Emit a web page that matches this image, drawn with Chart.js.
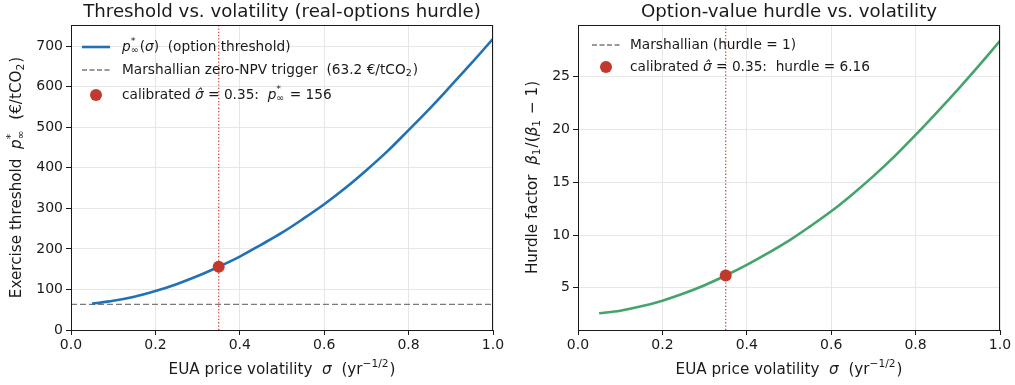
<!DOCTYPE html>
<html>
<head>
<meta charset="utf-8">
<script src="https://cdn.jsdelivr.net/npm/chart.js@4.4.1/dist/chart.umd.min.js"></script>
<style>
  html, body { margin: 0; padding: 0; background: #fff; }
  #wrap { position: relative; width: 1015px; height: 385px; }
  canvas { position: absolute; top: 0; }
</style>
</head>
<body>
<div id="wrap">
  <canvas id="left-chart" width="507" height="385" style="left:0"></canvas>
  <canvas id="right-chart" width="508" height="385" style="left:507px"></canvas>
</div>
<script>
// ---- data ----
const sigma = [0.05, 0.10, 0.15, 0.20, 0.25, 0.30, 0.35, 0.40, 0.45, 0.50,
               0.55, 0.60, 0.65, 0.70, 0.75, 0.80, 0.85, 0.90, 0.95, 1.00];
const pStar = [65, 72, 82, 96, 113, 133, 156, 181, 210, 240,
               274, 310, 350, 394, 441, 493, 546, 602, 659, 718];
const hurdle = [2.58, 2.83, 3.24, 3.78, 4.45, 5.24, 6.16, 7.17, 8.28, 9.47,
                10.82, 12.25, 13.85, 15.58, 17.45, 19.48, 21.60, 23.78, 26.05, 28.40];

const marshallianTrigger = 63.2;
const marshallianHurdle = 1;
const sigmaHat = 0.35;
const pStarHat = 156;
const hurdleHat = 6.16;

const xTicks = [0, 0.2, 0.4, 0.6, 0.8, 1.0];
const leftYTicks = [0, 100, 200, 300, 400, 500, 600, 700];
const rightYTicks = [5, 10, 15, 20, 25];
const leftYRange = [0, 752];
const rightYRange = [1, 29.9];

// ---- styling ----
const FONT = '"DejaVu Sans", "Liberation Sans", sans-serif';
const INK = '#1a1a1a';
const BLUE = '#2171b5';
const GREEN = '#45a36c';
const RED = '#c0392b';
const VLINE_RED = '#d9453a';
const GRAY = '#7a7a7a';

// ============================================
// rich text (italics, sub/superscripts)
// ============================================

function segFont(size, italic) {
  return (italic ? 'italic ' : '') + size + 'px ' + FONT;
}

function layoutRich(ctx, segs, size) {
  let w = 0;
  segs.forEach(s => {
    if (s.sup !== undefined || s.sub !== undefined) {
      ctx.font = segFont(size * 0.7, false);
      const w1 = s.sup ? ctx.measureText(s.sup).width : 0;
      const w2 = s.sub ? ctx.measureText(s.sub).width : 0;
      s._w = Math.max(w1, w2) + 1;
    } else {
      ctx.font = segFont(size, s.i);
      s._w = ctx.measureText(s.t).width;
    }
    w += s._w;
  });
  return w;
}

function drawRich(ctx, segs, x, y, size, align, color) {
  const w = layoutRich(ctx, segs, size);
  let cx = align === 'center' ? x - w / 2 : x;
  ctx.textBaseline = 'middle';
  ctx.textAlign = 'left';
  ctx.fillStyle = color || INK;
  segs.forEach(s => {
    if (s.sup !== undefined || s.sub !== undefined) {
      ctx.font = segFont(size * 0.7, false);
      if (s.sup) ctx.fillText(s.sup, cx, y - size * 0.4);
      if (s.sub) ctx.fillText(s.sub, cx, y + size * 0.28);
    } else {
      ctx.font = segFont(size, s.i);
      ctx.fillText(s.t, cx, y);
    }
    cx += s._w;
  });
  return w;
}

const T = (t, i) => ({ t: t, i: !!i });

const xLabel = [T('EUA price volatility  '), T('σ', true), T('  (yr'), { sup: '−1/2' }, T(')')];

// ============================================
// decorations plugin: title, labels, frame, legend
// ============================================

function makeDeco(cfg) {
  return {
    id: 'deco',
    afterDatasetsDraw(chart) {
      const ctx = chart.ctx;
      const a = chart.chartArea;
      ctx.save();

      // frame (all four spines)
      ctx.strokeStyle = INK;
      ctx.lineWidth = 1;
      ctx.strokeRect(a.left + 0.5, a.top + 0.5, a.right - a.left - 1, a.bottom - a.top);

      // title
      ctx.font = segFont(18.2, false);
      ctx.fillStyle = INK;
      ctx.textAlign = 'center';
      ctx.textBaseline = 'middle';
      ctx.fillText(cfg.title, (a.left + a.right) / 2, 12);

      // axis labels
      drawRich(ctx, xLabel, (a.left + a.right) / 2, 370, 15.2, 'center');
      ctx.save();
      ctx.translate(cfg.yLabelX, (a.top + a.bottom) / 2);
      ctx.rotate(-Math.PI / 2);
      drawRich(ctx, cfg.yLabel, 0, 0, 15.2, 'center');
      ctx.restore();

      // legend (no frame, as in the reference)
      const lg = cfg.legend;
      const fs = 13.7;
      lg.items.forEach((it, k) => {
        const y = lg.rows[k];
        if (it.kind === 'line' || it.kind === 'dash') {
          ctx.strokeStyle = it.color;
          ctx.lineWidth = it.width;
          ctx.setLineDash(it.kind === 'dash' ? [5, 2.5] : []);
          ctx.beginPath();
          ctx.moveTo(lg.handleX0, y);
          ctx.lineTo(lg.handleX1, y);
          ctx.stroke();
          ctx.setLineDash([]);
        } else {
          ctx.fillStyle = it.color;
          ctx.beginPath();
          ctx.arc((lg.handleX0 + lg.handleX1) / 2, y, 6, 0, Math.PI * 2);
          ctx.fill();
        }
        drawRich(ctx, it.text, lg.textX, y, fs, 'left');
      });

      ctx.restore();
    }
  };
}

// ============================================
// chart builder
// ============================================

function xy(xs, ys) {
  return xs.map((x, i) => ({ x: x, y: ys[i] }));
}

function buildChart(id, opts) {
  const tickFont = { family: FONT, size: 14 };
  return new Chart(document.getElementById(id), {
    type: 'scatter',
    data: {
      datasets: [
        {
          label: 'calibrated',
          data: [{ x: sigmaHat, y: opts.hatValue }],
          pointRadius: 6,
          pointBackgroundColor: RED,
          pointBorderColor: RED,
          pointBorderWidth: 0,
          showLine: false
        },
        {
          label: 'curve',
          data: xy(sigma, opts.values),
          showLine: true,
          borderColor: opts.color,
          borderWidth: 2.6,
          pointRadius: 0,
          tension: 0.35,
          fill: false
        },
        {
          label: 'marshallian',
          data: [{ x: 0, y: opts.marshallian }, { x: 1, y: opts.marshallian }],
          showLine: true,
          borderColor: GRAY,
          borderWidth: 1.3,
          borderDash: [6, 3],
          pointRadius: 0,
          clip: { left: 0, top: 0, right: 0, bottom: -2 }
        },
        {
          label: 'sigma-hat',
          data: [{ x: sigmaHat, y: opts.yRange[0] }, { x: sigmaHat, y: opts.yRange[1] }],
          showLine: true,
          borderColor: VLINE_RED,
          borderWidth: 1.3,
          borderDash: [1.3, 2],
          pointRadius: 0
        }
      ]
    },
    options: {
      responsive: false,
      animation: false,
      devicePixelRatio: 1,
      layout: { padding: { left: 0, right: opts.padRight, top: 25, bottom: 0 } },
      plugins: {
        legend: { display: false },
        tooltip: { enabled: false },
        title: { display: false }
      },
      scales: {
        x: {
          type: 'linear',
          min: 0,
          max: 1,
          afterBuildTicks: s => { s.ticks = xTicks.map(v => ({ value: v })); },
          afterFit: s => { s.height = 55; },
          ticks: {
            color: INK,
            font: tickFont,
            padding: 2,
            maxRotation: 0,
            callback: v => v.toFixed(1)
          },
          grid: { color: '#e4e4e4', lineWidth: 0.9, tickColor: INK, tickLength: 5, tickWidth: 1 },
          border: { display: true, color: INK, width: 1 }
        },
        y: {
          type: 'linear',
          min: opts.yRange[0],
          max: opts.yRange[1],
          afterBuildTicks: s => { s.ticks = opts.yTicks.map(v => ({ value: v })); },
          afterFit: s => { s.width = 71; },
          ticks: {
            color: INK,
            font: tickFont,
            padding: 3
          },
          grid: { color: '#e4e4e4', lineWidth: 0.9, tickColor: INK, tickLength: 5, tickWidth: 1 },
          border: { display: true, color: INK, width: 1 }
        }
      }
    },
    plugins: [makeDeco(opts.deco)]
  });
}

const pStarSegs = [T('p', true), { sup: '*', sub: '∞' }];

buildChart('left-chart', {
  values: pStar,
  hatValue: pStarHat,
  marshallian: marshallianTrigger,
  color: BLUE,
  yRange: leftYRange,
  yTicks: leftYTicks,
  padRight: 14,
  deco: {
    title: 'Threshold vs. volatility (real-options hurdle)',
    yLabelX: 17,
    yLabel: [T('Exercise threshold  ')].concat(pStarSegs, [T('  (€/tCO'), { sub: '2' }, T(')')]),
    legend: {
      handleX0: 82, handleX1: 110, textX: 122,
      rows: [47, 70, 95],
      items: [
        { kind: 'line', color: BLUE, width: 2.6,
          text: pStarSegs.concat([T('('), T('σ', true), T(')  (option threshold)')]) },
        { kind: 'dash', color: GRAY, width: 1.3,
          text: [T('Marshallian zero-NPV trigger  (63.2 €/tCO'), { sub: '2' }, T(')')] },
        { kind: 'dot', color: RED,
          text: [T('calibrated '), T('σ̂', true), T(' = 0.35:  ')].concat(pStarSegs, [T(' = 156')]) }
      ]
    }
  }
});

buildChart('right-chart', {
  values: hurdle,
  hatValue: hurdleHat,
  marshallian: marshallianHurdle,
  color: GREEN,
  yRange: rightYRange,
  yTicks: rightYTicks,
  padRight: 15,
  deco: {
    title: 'Option-value hurdle vs. volatility',
    yLabelX: 26,
    yLabel: [T('Hurdle factor  '), T('β', true), { sub: '1' }, T('/('), T('β', true), { sub: '1' }, T(' − 1)')],
    legend: {
      handleX0: 85, handleX1: 113, textX: 123,
      rows: [45, 67],
      items: [
        { kind: 'dash', color: GRAY, width: 1.3, text: [T('Marshallian (hurdle = 1)')] },
        { kind: 'dot', color: RED,
          text: [T('calibrated '), T('σ̂', true), T(' = 0.35:  hurdle = 6.16')] }
      ]
    }
  }
});
</script>
</body>
</html>
